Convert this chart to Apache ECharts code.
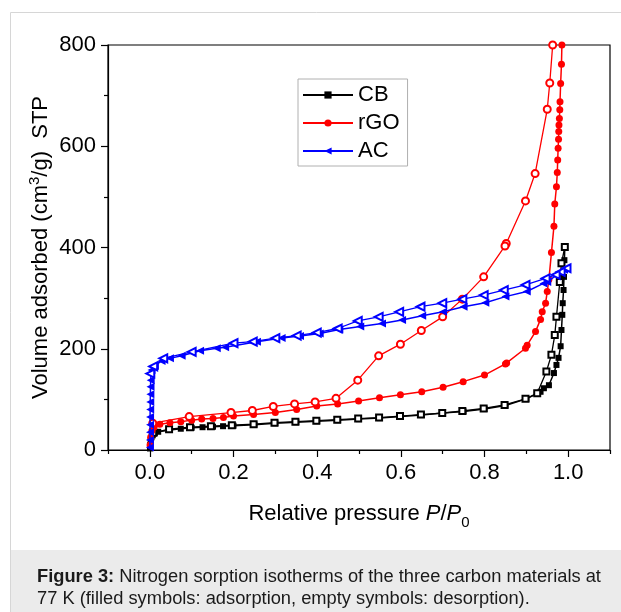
<!DOCTYPE html>
<html><head><meta charset="utf-8">
<script src="https://cdn.jsdelivr.net/npm/echarts@6/dist/echarts.min.js"></script>
<style>html,body{margin:0;padding:0;background:#fff}#c{width:621px;height:612px}</style>
</head><body><div id="c"></div>
<script>
// ---- data (P/P0, volume cm3/g STP) ----
const cbAdsP = [0.0003,0.001,0.002,0.004,0.007,0.012,0.02,0.048,0.074,0.1,0.126,0.151,0.175,0.2,0.25,0.3,0.35,0.4,0.45,0.5,0.55,0.6,0.65,0.7,0.75,0.8,0.85,0.9,0.934,0.942,0.954,0.966,0.972,0.977,0.982,0.984,0.986,0.987,0.989,0.990,0.991,0.992];
const cbAdsV = [3,10,18,25,29,33,36,39.5,42,44,45,46,47,48,50,53,55,57,59,61,63,66,69,73,76,81,88,101,115,122,128,152,168,182,205,237,267,290,316,342,375,401];
const cbDesP = [0.992,0.984,0.980,0.972,0.968,0.960,0.948,0.926,0.898,0.848,0.798,0.747,0.699,0.648,0.598,0.548,0.498,0.448,0.398,0.348,0.298,0.248,0.196,0.146,0.096,0.046,0.008];
const cbDesV = [401,369,332,263,227,188,155,112,101,89,82,77,73,70,67,64,62,60,58,56,54,51,49,47,45,41,34];

const rgoAdsP = [0.0005,0.002,0.005,0.01,0.024,0.048,0.074,0.1,0.124,0.151,0.176,0.2,0.248,0.3,0.351,0.399,0.449,0.499,0.549,0.599,0.65,0.701,0.749,0.8,0.850,0.853,0.898,0.902,0.922,0.934,0.938,0.946,0.950,0.954,0.960,0.966,0.968,0.972,0.974,0.975,0.976,0.977,0.9775,0.978,0.979,0.980,0.9805,0.982,0.984,0.985];
const rgoAdsV = [10,25,38,45,51,54,56,59,61,62,64,67,70,74,80,87,91,97,103,109,115,124,135,148,170,172,201,207,234,258,273,290,313,337,390,442,486,520,548,573,596,614,629,642,655,672,688,724,762,800];
const rgoDesP = [0.963,0.956,0.950,0.921,0.898,0.852,0.849,0.798,0.747,0.70,0.649,0.599,0.547,0.497,0.445,0.395,0.346,0.295,0.245,0.194,0.094,0.007];
const rgoDesV = [800,725,673,546,492,408,403,342,298,263,236,209,186,138,102,95,91,86,78,74,66,53];

const acAdsP = [0.0002,0.0003,0.0004,0.0005,0.0006,0.0008,0.001,0.0013,0.0016,0.002,0.003,0.004,0.012,0.028,0.048,0.076,0.12,0.16,0.18,0.256,0.315,0.359,0.406,0.453,0.503,0.555,0.603,0.651,0.701,0.75,0.802,0.85,0.901,0.941,0.95,0.99,0.996];
const acAdsV = [5,20,35,50,65,80,95,110,125,138,150,158,166,176,181,186,196,201,203,214,221,225,230,238,244,250,257,265,273,283,291,303,313,329,332,356,359];
const acDesP = [0.996,0.982,0.97,0.946,0.898,0.846,0.798,0.747,0.699,0.647,0.596,0.547,0.497,0.449,0.399,0.351,0.3,0.246,0.2,0.1,0.032,0.008,0.001];
const acDesV = [359,352,346,339,326,316,306,298,290,283,273,263,255,240,232,226,221,214,211,194,181,165,151];

const legendNames = ['CB','rGO','AC'];
const xMajor = [0,0.2,0.4,0.6,0.8,1.0];
const xMinor = [-0.1,0.1,0.3,0.5,0.7,0.9,1.1];
const yMajor = [0,200,400,600,800];
const yMinor = [100,300,500,700];
const captionBold = 'Figure 3:';
const captionRest = ' Nitrogen sorption isotherms of the three carbon materials at\n77 K (filled symbols: adsorption, empty symbols: desorption).';

const zip = (a,b) => a.map((v,i)=>[v,b[i]]);
const FONT = 'Liberation Sans, Arial, Helvetica, sans-serif';

function mk(name, P, V, color, symbol, size, rot, hollow, lw, z) {
  return {
    name, type:'line', data: zip(P,V), xAxisIndex:0, yAxisIndex:0,
    symbol, symbolSize:size, symbolRotate: rot, showAllSymbol:true,
    lineStyle:{color, width:lw}, z,
    itemStyle: hollow ? {color, borderWidth:1} : {color},
    emphasis:{disabled:true}, animation:false, clip:true
  };
}

const chart = echarts.init(document.getElementById('c'), null, {renderer:'canvas'});
chart.setOption({
  animation:false,
  backgroundColor:'#fff',
  textStyle:{fontFamily:FONT},
  grid:{left:108, right:11, top:45, bottom:162, show:true, borderColor:'#000', borderWidth:1.2, backgroundColor:'transparent'},
  legend:{
    data: legendNames, orient:'vertical', left:298, top:79,
    padding:[5,8,4,4], itemWidth:50, itemHeight:9, itemGap:6,
    borderColor:'#b0b0b0', borderWidth:1, backgroundColor:'#fff',
    textStyle:{fontSize:22, fontFamily:FONT, color:'#000', lineHeight:22}
  },
  xAxis:[{
    type:'value', min:-0.1, max:1.1, position:'bottom',
    axisLine:{onZero:false, lineStyle:{color:'#000', width:1.2}},
    axisTick:{customValues:xMajor, length:7, lineStyle:{color:'#000', width:1.2}},
    axisLabel:{customValues:xMajor, formatter:v=>v.toFixed(1), fontSize:22, color:'#000', margin:12, fontFamily:FONT},
    splitLine:{show:false},
    name:'Relative pressure {i|P}/{i|P}{s|0}', nameLocation:'middle', nameGap:50, nameMoveOverlap:false,
    nameTextStyle:{fontSize:22, color:'#000', fontFamily:FONT, lineHeight:28,
      rich:{i:{fontStyle:'italic', fontSize:22, fontFamily:FONT, color:'#000', lineHeight:28},
            s:{fontSize:15, fontFamily:FONT, color:'#000', verticalAlign:'bottom', lineHeight:15, padding:[0,0,-2,0]}}}
  },{
    type:'value', min:-0.1, max:1.1, position:'bottom', offset:0,
    axisLine:{show:false, onZero:false},
    axisTick:{customValues:xMinor, length:4, lineStyle:{color:'#000', width:1.2}},
    axisLabel:{show:false}, splitLine:{show:false}
  }],
  yAxis:[{
    type:'value', min:0, max:800, position:'left',
    axisLine:{show:true, onZero:false, lineStyle:{color:'#000', width:1.2}},
    axisTick:{show:true, customValues:yMajor, length:7, lineStyle:{color:'#000', width:1.2}},
    axisLabel:{customValues:yMajor, fontSize:22, color:'#000', margin:12, fontFamily:FONT},
    splitLine:{show:false},
    name:'Volume adsorbed (cm{p|3}/g)  STP', nameLocation:'middle', nameGap:53, nameMoveOverlap:false,
    nameTextStyle:{fontSize:22, color:'#000', fontFamily:FONT, lineHeight:28,
      rich:{p:{fontSize:15, fontFamily:FONT, color:'#000', verticalAlign:'top', lineHeight:15}}}
  },{
    type:'value', min:0, max:800, position:'left', offset:0,
    axisLine:{show:false, onZero:false},
    axisTick:{show:true, customValues:yMinor, length:4, lineStyle:{color:'#000', width:1.2}},
    axisLabel:{show:false}, splitLine:{show:false}
  }],
  graphic:[
    {type:'rect', silent:true, z:-1, shape:{x:10.5, y:12.5, width:700, height:700}, style:{fill:'none', stroke:'#d6d6d6', lineWidth:1}},
    {type:'rect', silent:true, z:-1, shape:{x:11, y:550, width:620, height:70}, style:{fill:'#ebebeb'}},
    {type:'text', silent:true, x:37, y:566, style:{
      text:'{b|'+captionBold+'}'+captionRest,
      font:'18.3px '+FONT, fill:'#1a1a1a', lineHeight:22,
      rich:{b:{fontWeight:'bold', fontSize:18.3, fontFamily:FONT, fill:'#1a1a1a', lineHeight:22}}
    }}
  ],
  series:[
    mk('CB', cbAdsP, cbAdsV, '#000', 'rect', 6, 0, false, 1.5, 3),
    mk('CB-des', cbDesP, cbDesV, '#000', 'emptyRect', 6, 0, true, 1.3, 3),
    mk('rGO', rgoAdsP, rgoAdsV, '#ff0000', 'circle', 7, 0, false, 1.5, 4),
    mk('rGO-des', rgoDesP, rgoDesV, '#ff0000', 'emptyCircle', 7, 0, true, 1.3, 4),
    mk('AC', acAdsP, acAdsV, '#0000ff', 'triangle', 8, 90, false, 1.5, 5),
    mk('AC-des', acDesP, acDesV, '#0000ff', 'emptyTriangle', 8, 90, true, 1.3, 5)
  ]
});
</script></body></html>
